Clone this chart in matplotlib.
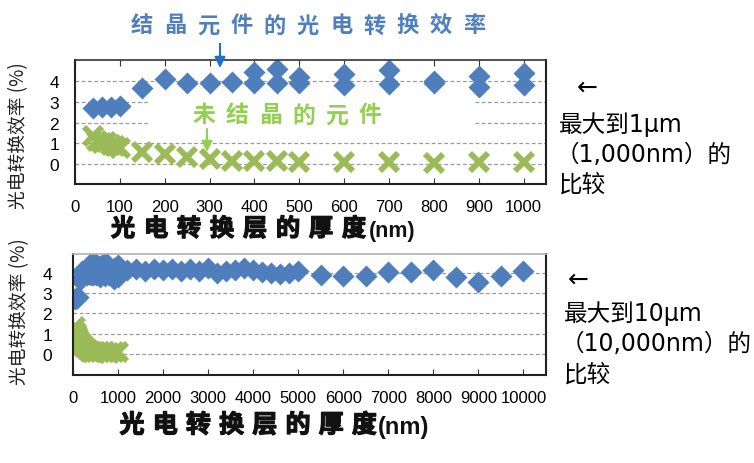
import matplotlib.pyplot as plt
import matplotlib.patheffects as pe
from matplotlib.patches import Rectangle

W, H = 754, 464

# --- data (thickness in nm, efficiency in %) ---
cryst_x = [40, 60, 80, 100, 150, 200, 250, 300, 350, 400, 400, 450, 450,
           500, 500, 600, 600, 700, 700, 800, 800, 900, 900, 1000, 1000]
cryst_y = [2.7, 2.75, 2.75, 2.8, 3.65, 4.1, 3.9, 3.9, 3.95, 4.45, 3.9, 4.6, 3.9,
           4.2, 3.9, 4.35, 3.8, 4.55, 3.85, 4.0, 3.9, 4.25, 3.7, 4.4, 3.8]

amorph_x = [40, 50, 60, 70, 80, 90, 100, 150, 200, 250, 300, 350, 400, 450,
            500, 600, 700, 800, 900, 1000]
amorph_y = [1.35, 1.1, 1.0, 1.05, 0.9, 0.85, 0.75, 0.58, 0.5, 0.35, 0.25, 0.15,
            0.12, 0.12, 0.1, 0.1, 0.08, 0.05, 0.08, 0.08]

# extra crystallised points only shown in the 10 um chart
long_x = [1200, 1400, 1600, 1800, 2000, 2200, 2400, 2600, 2800, 3000, 3200,
          3400, 3600, 3800, 4000, 4200, 4400, 4600, 4800, 5000,
          5500, 6000, 6500, 7000, 7500, 8000, 8500, 9000, 9500, 10000]
long_y = [4.15, 4.2, 4.1, 4.2, 4.15, 4.2, 4.1, 4.2, 4.1, 4.25, 4.0,
          4.1, 4.15, 4.25, 4.15, 4.05, 4.0, 3.95, 4.0, 4.1,
          3.9, 3.85, 3.85, 4.05, 4.05, 4.15, 3.8, 3.55, 3.85, 4.08]

ticks_1um = [0, 100, 200, 300, 400, 500, 600, 700, 800, 900, 1000]
ticks_10um = [0, 1000, 2000, 3000, 4000, 5000, 6000, 7000, 8000, 9000, 10000]
yticks = [0, 1, 2, 3, 4]

BLUE = '#4f7ebc'
GREEN = '#9bbb59'
CJK = ['Noto Sans CJK SC', 'DejaVu Sans']
RIGHT = ['DejaVu Sans', 'Noto Sans CJK SC']

plt.rcParams['font.family'] = ['Liberation Sans', 'Noto Sans CJK SC']


def fx(px):
    return px / W


def fy(py):
    return 1 - py / H


def spaced(fig, x0, y, s, pitch, **kw):
    # CJK titles in the original are letter-spaced
    for i, ch in enumerate(s):
        fig.text(fx(x0 + i * pitch), fy(y), ch, ha='center', va='center', **kw)


def style_axes(ax, ypad, top_color):
    ax.set_yticks(yticks)
    ax.yaxis.grid(True, ls=(0, (3, 2)), color='#9a9a9a', lw=0.9)
    ax.set_axisbelow(True)
    ax.tick_params(axis='x', direction='in', length=4, labelsize=12, pad=11, color='#333')
    ax.tick_params(axis='y', length=0, labelsize=12.5, pad=ypad)
    for side in ['left', 'bottom', 'right']:
        ax.spines[side].set_color('#222')
        ax.spines[side].set_linewidth(1.5)
    ax.spines['top'].set_color(top_color)
    ax.spines['top'].set_linewidth(1.2)


heavy = [pe.withStroke(linewidth=0.9, foreground='#111')]

fig = plt.figure(figsize=(W / 100, H / 100), dpi=100)

# top chart: up to 1 um
ax1 = fig.add_axes([fx(75), fy(185), fx(471), 124 / H])
ax1.plot(cryst_x, cryst_y, 'D', color=BLUE, ms=11.5, mec='none')
ax1.plot(amorph_x, amorph_y, 'x', color=GREEN, ms=12.5, mew=4.2)
ax1.set_xlim(0, 1050)
ax1.set_ylim(-0.97, 5.02)
ax1.set_xticks(ticks_1um)
ax1.tick_params(axis='x', top=True)
style_axes(ax1, 11.5, '#333')
# white patch behind the "amorphous" label hides part of the grid
ax1.add_patch(Rectangle((163, 1.5), 727, 2.0, color='white', zorder=1))

# bottom chart: up to 10 um
ax2 = fig.add_axes([fx(73), fy(376), fx(473), 121 / H])
ax2.plot(cryst_x + long_x, cryst_y + long_y, 'D', color=BLUE, ms=11.5, mec='none')
ax2.plot(amorph_x, amorph_y, 'x', color=GREEN, ms=12.5, mew=4.2)
ax2.set_xlim(0, 10500)
ax2.set_ylim(-1.03, 4.93)
ax2.set_xticks(ticks_10um)
style_axes(ax2, 15, '#b0b0b0')

# y labels
fig.text(fx(18.5), fy(136), '光电转换效率 (%)', rotation=90, ha='center', va='center',
         fontsize=13.5, family=CJK, color='#222')
fig.text(fx(19.5), fy(312), '光电转换效率 (%)', rotation=90, ha='center', va='center',
         fontsize=13.5, family=CJK, color='#222')

# x labels
spaced(fig, 123, 230, '光电转换层的厚度', 33, fontsize=17.5, family=CJK,
       weight='bold', color='#111', path_effects=heavy)
fig.text(fx(369), fy(232), '(nm)', ha='left', va='center', fontsize=15.5,
         weight='bold', color='#111')
spaced(fig, 132, 426.5, '光电转换层的厚度', 33.2, fontsize=18, family=CJK,
       weight='bold', color='#111', path_effects=heavy)
fig.text(fx(378), fy(428), '(nm)', ha='left', va='center', fontsize=17,
         weight='bold', color='#111')

# annotations
spaced(fig, 141.5, 26, '结晶元件的光电转换效率', 33.3, fontsize=16, family=CJK,
       weight='bold', color='#4f7fbf')
fig.add_artist(plt.Line2D([fx(220), fx(220)], [fy(45), fy(56)], color='#1f70c0', lw=1.5))
ax1.annotate('', xy=(fx(220), fy(69)), xytext=(fx(220), fy(54)),
             xycoords='figure fraction', textcoords='figure fraction',
             arrowprops=dict(arrowstyle='-|>', color='#1f70c0', lw=1.5,
                             mutation_scale=16, shrinkA=0, shrinkB=0))
spaced(fig, 204, 116, '未结晶的元件', 33.3, fontsize=16.5, family=CJK,
       weight='bold', color='#92d050', zorder=5)
ax1.annotate('', xy=(fx(207), fy(153)), xytext=(fx(207), fy(130)),
             xycoords='figure fraction', textcoords='figure fraction',
             arrowprops=dict(arrowstyle='-|>', color='#92d050', lw=1.5,
                             mutation_scale=16, shrinkA=0, shrinkB=0))

# notes on the right
fig.text(fx(577), fy(88), '←', ha='left', va='center', fontsize=18, family=RIGHT)
fig.text(fx(559), fy(125), '最大到1μm', ha='left', va='center', fontsize=17, family=RIGHT)
fig.text(fx(556), fy(155), '（1,000nm）的', ha='left', va='center', fontsize=17, family=RIGHT)
fig.text(fx(559), fy(185), '比较', ha='left', va='center', fontsize=17, family=RIGHT)

fig.text(fx(568), fy(280), '←', ha='left', va='center', fontsize=18, family=RIGHT)
fig.text(fx(564), fy(314), '最大到10μm', ha='left', va='center', fontsize=17, family=RIGHT)
fig.text(fx(561), fy(344), '（10,000nm）的', ha='left', va='center', fontsize=17, family=RIGHT)
fig.text(fx(564), fy(375), '比较', ha='left', va='center', fontsize=17, family=RIGHT)

fig.savefig('out.png', dpi=100)
